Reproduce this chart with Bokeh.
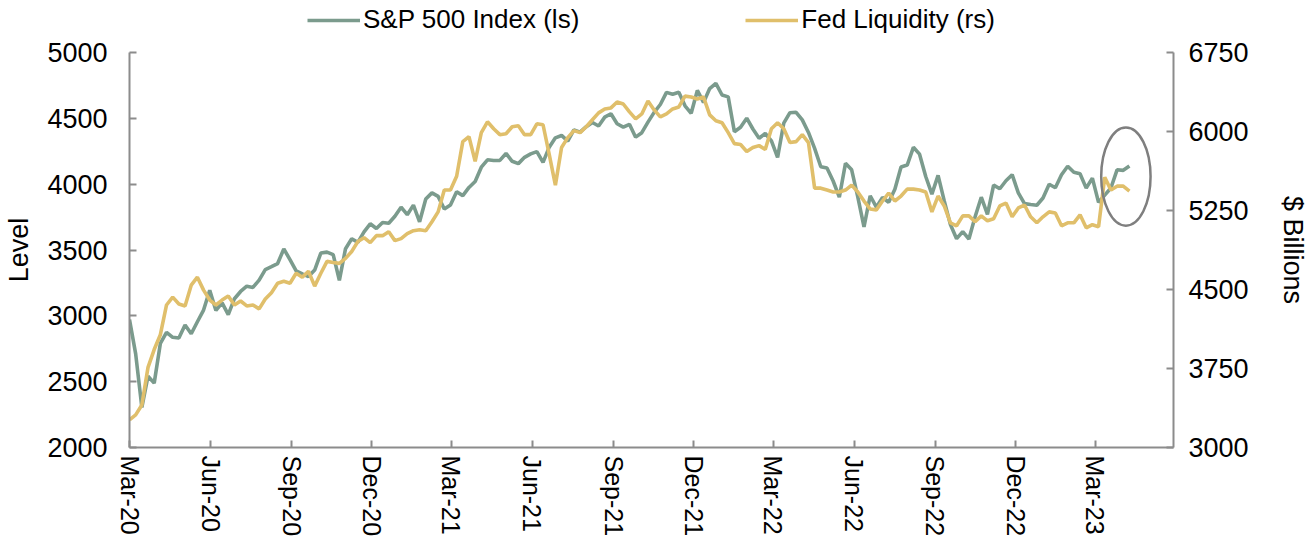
import pandas as pd
from bokeh.plotting import figure
from bokeh.layouts import column
from bokeh.models import (Range1d, LinearAxis, FixedTicker, DatetimeTickFormatter,
                          Legend, LegendItem)
from bokeh.embed import file_html
from bokeh.resources import INLINE

# ---- data (weekly, Mar-2020 .. Apr-2023) ----
start_date = "2020-03-04"
n_weeks = 163

sp500 = [
    2972, 2711, 2305, 2541, 2489, 2790, 2875, 2837, 2831, 2930, 2864, 2955, 3044, 3194, 3041, 3098,
    3009, 3130, 3185, 3225, 3216, 3271, 3351, 3373, 3397, 3508, 3427, 3341, 3319, 3298, 3348, 3477,
    3484, 3465, 3270, 3510, 3585, 3558, 3638, 3699, 3663, 3709, 3703, 3756, 3825, 3768, 3841, 3714,
    3887, 3934, 3907, 3811, 3842, 3943, 3913, 3975, 4020, 4129, 4185, 4180, 4181, 4233, 4174, 4156,
    4204, 4230, 4247, 4166, 4281, 4352, 4370, 4327, 4412, 4395, 4437, 4468, 4442, 4509, 4535, 4459,
    4433, 4455, 4357, 4391, 4471, 4545, 4605, 4697, 4683, 4698, 4595, 4538, 4712, 4621, 4726, 4766,
    4677, 4663, 4398, 4432, 4501, 4419, 4349, 4385, 4329, 4204, 4463, 4543, 4546, 4488, 4393, 4272,
    4132, 4123, 4024, 3901, 4158, 4109, 3901, 3675, 3912, 3825, 3899, 3863, 3962, 4130, 4145, 4280,
    4228, 4058, 3924, 4067, 3873, 3693, 3586, 3640, 3583, 3753, 3901, 3771, 3993, 3965, 4026, 4072,
    3934, 3852, 3845, 3840, 3895, 3999, 3973, 4071, 4136, 4090, 4079, 3970, 4046, 3862, 3917, 3971,
    4109, 4105, 4138,
]

fed_liquidity = [
    3263, 3310, 3404, 3761, 3930, 4071, 4353, 4428, 4363, 4344, 4541, 4617, 4494, 4400, 4353, 4400,
    4438, 4353, 4391, 4344, 4353, 4316, 4410, 4470, 4560, 4579, 4560, 4654, 4617, 4673, 4532, 4654,
    4767, 4757, 4748, 4795, 4861, 4955, 4992, 4945, 5011, 5011, 5049, 4964, 4983, 5030, 5058, 5068,
    5058, 5143, 5237, 5444, 5444, 5575, 5904, 5951, 5716, 5989, 6092, 6026, 5970, 5979, 6045, 6055,
    5970, 5970, 6073, 6064, 5782, 5491, 5848, 5942, 6008, 5989, 6045, 6111, 6177, 6214, 6224, 6280,
    6261, 6186, 6120, 6167, 6289, 6205, 6139, 6167, 6214, 6233, 6336, 6327, 6308, 6327, 6158, 6102,
    6083, 5989, 5885, 5876, 5810, 5848, 5866, 5829, 6026, 6083, 6026, 5895, 5904, 5970, 5895, 5462,
    5462, 5444, 5425, 5425, 5444, 5491, 5425, 5340, 5265, 5256, 5340, 5416, 5340, 5387, 5453, 5453,
    5444, 5425, 5237, 5387, 5293, 5133, 5105, 5199, 5199, 5143, 5199, 5152, 5171, 5293, 5321, 5190,
    5274, 5302, 5190, 5133, 5190, 5237, 5227, 5105, 5133, 5133, 5209, 5086, 5115, 5096, 5566, 5444,
    5481, 5481, 5434,
]

series_names = ["S&P 500 Index (ls)", "Fed Liquidity (rs)"]
left_ticks = [2000, 2500, 3000, 3500, 4000, 4500, 5000]
right_ticks = [3000, 3750, 4500, 5250, 6000, 6750]
left_title = "Level"
right_title = "$ Billions"

# highlighted recent stretch (ellipse annotation), in S&P level units
highlight_low, highlight_high = 3685, 4430

# ---- build ----
dates = pd.date_range(start_date, periods=n_weeks, freq="7D")
x_end = dates[-1] + pd.Timedelta(days=50)
tick_dates = pd.date_range(start_date, x_end, freq=pd.DateOffset(months=3))
tick_ms = [int(d.value // 10**6) for d in tick_dates]

GREEN = "#7b9b8d"
GOLD = "#e0bf6b"
AXIS = "#8c8c8c"
FONT = "Liberation Sans"
FS = "27px"

W, H = 1310, 539
LEG_H = 35
MAIN_H = H - LEG_H
BL, BR, BT, BB = 129, 135, 17, 88

# ---------- main chart ----------
p = figure(width=W, height=MAIN_H, output_backend="svg", toolbar_location=None,
           x_axis_type="datetime",
           x_range=Range1d(dates[0], x_end),
           y_range=Range1d(left_ticks[0], left_ticks[-1]),
           min_border_left=BL, min_border_right=BR,
           min_border_top=BT, min_border_bottom=BB)
p.extra_y_ranges = {"liq": Range1d(right_ticks[0], right_ticks[-1])}
p.outline_line_color = None
p.xgrid.visible = False
p.ygrid.visible = False
p.background_fill_color = "white"
p.border_fill_color = "white"

r1 = p.line(dates, sp500, line_color=GREEN, line_width=3.6)
r2 = p.line(dates, fed_liquidity, line_color=GOLD, line_width=3.6, y_range_name="liq")

p.ellipse(x=[dates[-2] + pd.Timedelta(days=3)],
          y=[(highlight_low + highlight_high) / 2],
          width=pd.Timedelta(days=56).total_seconds() * 1000,
          height=highlight_high - highlight_low,
          fill_color=None, line_color="#7f7f7f", line_width=2.5)

def style_axis(ax, size=FS):
    ax.axis_line_color = AXIS
    ax.axis_line_width = 2
    ax.major_tick_line_color = AXIS
    ax.major_tick_line_width = 2
    ax.major_tick_in = 7
    ax.major_tick_out = 0
    ax.minor_tick_line_color = None
    ax.major_label_text_font = FONT
    ax.major_label_text_font_size = size
    ax.major_label_text_color = "black"
    ax.axis_label_text_font = FONT
    ax.axis_label_text_font_size = size
    ax.axis_label_text_font_style = "normal"
    ax.axis_label_text_color = "black"

yl = p.yaxis[0]
yl.ticker = FixedTicker(ticks=left_ticks)
yl.axis_label = left_title
yl.major_label_standoff = 22
yl.axis_label_standoff = 10
style_axis(yl)

yr = LinearAxis(y_range_name="liq", ticker=FixedTicker(ticks=right_ticks),
                axis_label=right_title)
yr.major_label_standoff = 15
yr.axis_label_standoff = 26
style_axis(yr)
p.add_layout(yr, "right")

xa = p.xaxis[0]
xa.ticker = FixedTicker(ticks=tick_ms)
fmt = "%b-%y"
xa.formatter = DatetimeTickFormatter(years=fmt, months=fmt, days=fmt, hours=fmt,
                                     minutes=fmt, seconds=fmt, milliseconds=fmt)
xa.major_label_orientation = "vertical"
xa.major_label_standoff = 8
style_axis(xa, "25px")

# ---------- legend strip above the chart (frame aligned with the chart's) ----------
lf = figure(width=W, height=LEG_H, output_backend="svg", toolbar_location=None,
            x_range=Range1d(0, 1), y_range=Range1d(0, 1),
            min_border=0)
lf.axis.visible = False
lf.grid.visible = False
lf.outline_line_color = None
# off-range samples: only used to draw the legend keys
lg1 = lf.line(x=[-2, -1], y=[-2, -1], line_color=GREEN, line_width=3.6)
lg2 = lf.line(x=[-2, -1], y=[-2, -1], line_color=GOLD, line_width=3.6)
legend = Legend(items=[LegendItem(label=series_names[0], renderers=[lg1]),
                       LegendItem(label=series_names[1], renderers=[lg2])],
                orientation="horizontal", location=(307 - BL, 0),
                glyph_width=53, glyph_height=20, label_standoff=3, spacing=166,
                padding=0, margin=0, border_line_color=None,
                background_fill_alpha=0,
                label_text_font=FONT, label_text_font_size="26px",
                label_text_color="black")
lf.add_layout(legend)

layout = column(lf, p, spacing=0)
open("out.html", "w").write(file_html(layout, INLINE))
